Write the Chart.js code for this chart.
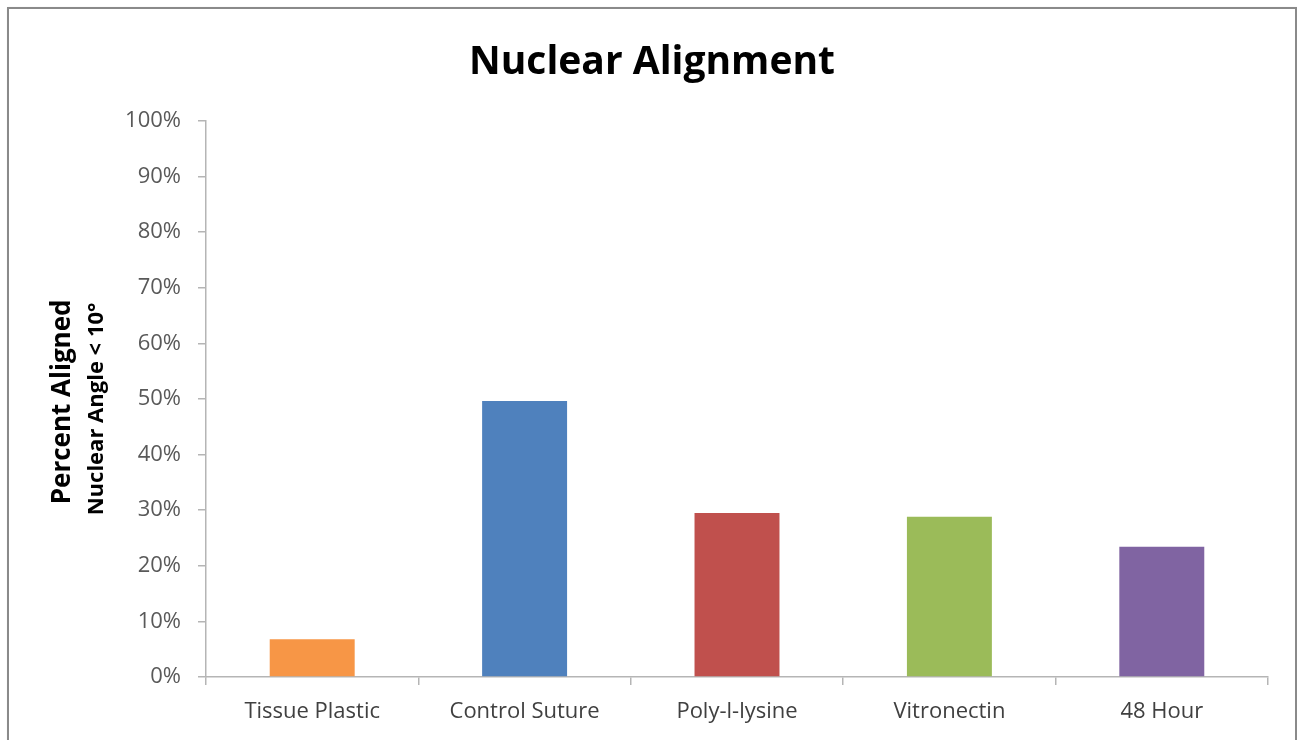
<!DOCTYPE html>
<html>
<head>
<meta charset="utf-8">
<title>Nuclear Alignment</title>
<script src="https://cdn.jsdelivr.net/npm/chart.js@4/dist/chart.umd.min.js"></script>
<style>
  html, body { margin: 0; padding: 0; background: #ffffff; overflow: hidden; }
  #frame {
    position: absolute; left: 7px; top: 7px; width: 1286px; height: 800px;
    border: 2px solid #8a8a8a; box-shadow: 1px 1px 2px rgba(0,0,0,0.25);
  }
  #wrap { position: absolute; left: 0; top: 0; width: 1297px; height: 740px; }
</style>
</head>
<body>
<div id="frame"></div>
<div id="wrap"><canvas id="chart" width="1297" height="740"></canvas></div>
<script>
const categories = ['Tissue Plastic', 'Control Suture', 'Poly-l-lysine', 'Vitronectin', '48 Hour'];
const percentAligned = [6.8, 49.6, 29.5, 28.8, 23.4];
const barColors = ['#F79646', '#4F81BD', '#C0504D', '#9BBB59', '#8064A2'];
const yTicks = [0, 10, 20, 30, 40, 50, 60, 70, 80, 90, 100];
const yTitleLines = ['Percent Aligned', 'Nuclear Angle < 10°'];

const FONT = '"Open Sans", "DejaVu Sans", sans-serif';

// Two-line rotated y-axis title with different sizes per line
const yTitlePlugin = {
  id: 'yTitle',
  afterDraw(chart) {
    const ctx = chart.ctx;
    const area = chart.chartArea;
    const cy = (area.top + area.bottom) / 2 + 3;
    const lines = [
      { text: yTitleLines[0], x: 63, dy: 0, font: 'bold 26px ' + FONT },
      { text: yTitleLines[1], x: 97, dy: 7, font: 'bold 22px ' + FONT }
    ];
    lines.forEach(l => {
      ctx.save();
      ctx.fillStyle = '#000000';
      ctx.textAlign = 'center';
      ctx.textBaseline = 'middle';
      ctx.translate(l.x, cy + l.dy);
      ctx.rotate(-Math.PI / 2);
      ctx.font = l.font;
      ctx.fillText(l.text, 0, 0);
      ctx.restore();
    });
  }
};

new Chart(document.getElementById('chart'), {
  type: 'bar',
  data: {
    labels: categories,
    datasets: [{
      data: percentAligned,
      backgroundColor: barColors,
      borderWidth: 0,
      categoryPercentage: 1.0,
      barPercentage: 0.4
    }]
  },
  options: {
    responsive: false,
    animation: false,
    layout: { padding: { left: 36, right: 29, top: 0, bottom: 0 } },
    plugins: {
      legend: { display: false },
      tooltip: { enabled: false },
      title: {
        display: true,
        text: 'Nuclear Alignment',
        color: '#000000',
        font: { family: FONT, size: 39, weight: 'bold' },
        padding: { top: 39, bottom: 35 }
      }
    },
    scales: {
      x: {
        grid: {
          offset: true,
          drawOnChartArea: false,
          drawTicks: true,
          tickLength: 8,
          color: '#b5b5b5',
          lineWidth: 1.5
        },
        border: { display: true, color: '#b5b5b5', width: 1.5 },
        ticks: {
          color: '#404040',
          padding: 14,
          font: { family: FONT, size: 22 },
          maxRotation: 0
        },
        afterFit(scale) { scale.height = 63; }
      },
      y: {
        min: 0,
        max: 100,
        afterBuildTicks(scale) { scale.ticks = yTicks.map(v => ({ value: v })); },
        grid: {
          drawOnChartArea: false,
          drawTicks: true,
          tickLength: 8,
          color: '#b5b5b5',
          lineWidth: 1.5
        },
        border: { display: true, color: '#b5b5b5', width: 1.5 },
        ticks: {
          color: '#595959',
          padding: 17,
          font: { family: FONT, size: 22 },
          callback: v => v + '%'
        },
        afterFit(scale) { scale.width = 170; }
      }
    }
  },
  plugins: [yTitlePlugin]
});
</script>
</body>
</html>
